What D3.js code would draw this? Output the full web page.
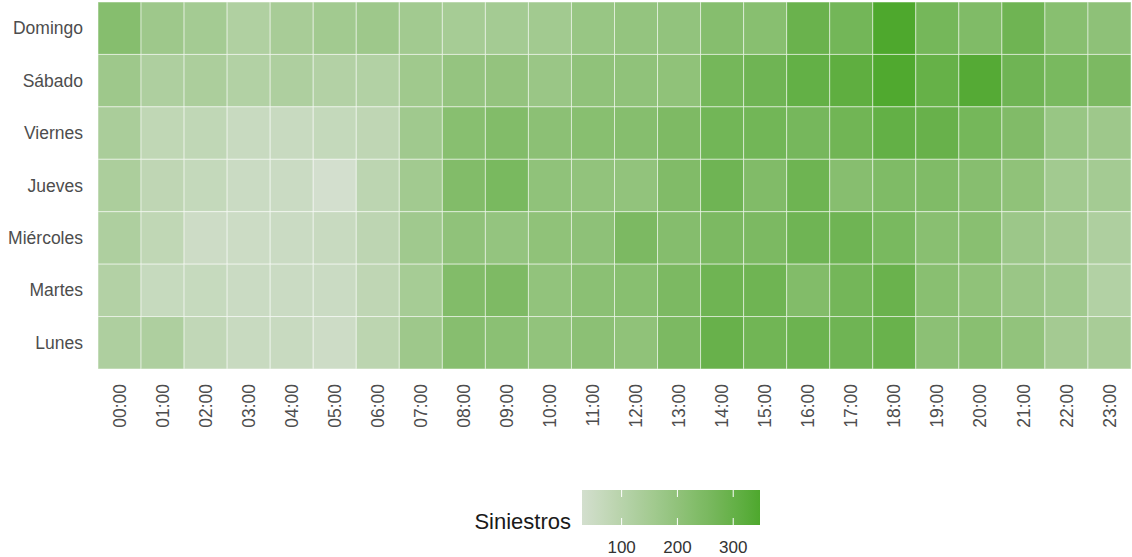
<!DOCTYPE html>
<html lang="es">
<head>
<meta charset="utf-8">
<title>Siniestros por día y hora</title>
<script src="https://d3js.org/d3.v7.min.js"></script>
<style>
  body { margin: 0; background: #fff; }
  svg { font-family: "Liberation Sans", Arial, sans-serif; display: block; }
</style>
</head>
<body>
<svg width="1132" height="557"></svg>
<script>
var days = ["Domingo", "Sábado", "Viernes", "Jueves", "Miércoles", "Martes", "Lunes"];
var hours = ["00:00","01:00","02:00","03:00","04:00","05:00","06:00","07:00","08:00","09:00","10:00","11:00",
             "12:00","13:00","14:00","15:00","16:00","17:00","18:00","19:00","20:00","21:00","22:00","23:00"];

// siniestros por hora, una lista por día
var domingo   = [225,165,150,120,140,155,165,155,145,150,155,180,190,195,225,220,290,270,348,265,240,280,220,205];
var sabado    = [165,125,130,115,125,112,115,162,188,192,175,200,200,202,265,278,305,315,345,300,335,278,255,250];
var viernes   = [135, 80, 78, 58, 58, 68, 82,160,220,235,210,220,225,245,272,272,262,275,305,295,265,238,180,165];
var jueves    = [130, 82, 68, 52, 52, 29, 88,155,235,255,200,196,196,238,278,238,282,222,242,240,222,202,155,150];
var miercoles = [125, 80, 45, 48, 52, 58, 86,160,200,190,202,205,250,228,250,250,278,278,255,218,218,170,152,125];
var martes    = [112, 62, 62, 52, 52, 52, 82,145,235,245,196,212,220,250,280,280,235,268,290,218,202,175,160,115];
var lunes     = [125,125, 75, 58, 58, 45, 90,165,222,212,196,210,202,250,295,275,285,278,292,210,218,196,152,140];

var legendTicks = [100, 200, 300];

var rows = [domingo, sabado, viernes, jueves, miercoles, martes, lunes];
var cells = [];
rows.forEach(function(r, i) {
  r.forEach(function(v, j) { cells.push({ day: days[i], hour: hours[j], value: v }); });
});

var svg = d3.select("svg");
var margin = { left: 98, right: 1, top: 2, bottom: 188 };
var width = 1132 - margin.left - margin.right,
    height = 557 - margin.top - margin.bottom;

var x = d3.scaleBand().domain(hours).range([0, width]);
var y = d3.scaleBand().domain(days).range([0, height]);
var color = d3.scaleLinear()
    .domain(d3.extent(cells, function(d) { return d.value; }))
    .range(["#d3dfce", "#4ea82d"])
    .interpolate(d3.interpolateLab);

var g = svg.append("g").attr("transform", "translate(" + margin.left + "," + margin.top + ")");

g.selectAll("rect")
  .data(cells)
  .enter().append("rect")
    .attr("x", function(d) { return x(d.hour); })
    .attr("y", function(d) { return y(d.day); })
    .attr("width", x.bandwidth())
    .attr("height", y.bandwidth())
    .attr("fill", function(d) { return color(d.value); })
    .attr("stroke", "rgba(255,255,255,0.5)")
    .attr("stroke-width", 1);

// y axis labels
g.append("g").selectAll("text")
  .data(days)
  .enter().append("text")
    .attr("x", -15)
    .attr("y", function(d) { return y(d) + y.bandwidth() / 2; })
    .attr("dy", "0.35em")
    .attr("text-anchor", "end")
    .attr("font-size", 17.5)
    .attr("fill", "#4d4d4d")
    .text(function(d) { return d; });

// x axis labels, rotated
g.append("g").selectAll("text")
  .data(hours)
  .enter().append("text")
    .attr("transform", function(d) {
      return "translate(" + (x(d) + x.bandwidth() / 2) + "," + (height + 15) + ") rotate(-90)";
    })
    .attr("dy", "0.35em")
    .attr("text-anchor", "end")
    .attr("font-size", 17.5)
    .attr("fill", "#4d4d4d")
    .text(function(d) { return d; });

// legend
var lx = 582, ly = 490, lw = 178, lh = 35;
var lscale = d3.scaleLinear().domain(color.domain()).range([lx, lx + lw]);

var grad = svg.append("defs").append("linearGradient").attr("id", "lg");
d3.range(0, 1.0001, 0.05).forEach(function(t) {
  var v = color.domain()[0] + t * (color.domain()[1] - color.domain()[0]);
  grad.append("stop").attr("offset", t).attr("stop-color", color(v));
});

svg.append("rect")
    .attr("x", lx).attr("y", ly).attr("width", lw).attr("height", lh)
    .attr("fill", "url(#lg)");

var lt = svg.append("g").selectAll("g").data(legendTicks).enter().append("g");
lt.append("line")
    .attr("x1", function(d) { return lscale(d); }).attr("x2", function(d) { return lscale(d); })
    .attr("y1", ly).attr("y2", ly + 7)
    .attr("stroke", "white").attr("stroke-width", 1);
lt.append("line")
    .attr("x1", function(d) { return lscale(d); }).attr("x2", function(d) { return lscale(d); })
    .attr("y1", ly + lh - 7).attr("y2", ly + lh)
    .attr("stroke", "white").attr("stroke-width", 1);
lt.append("text")
    .attr("x", function(d) { return lscale(d); })
    .attr("y", 553)
    .attr("text-anchor", "middle")
    .attr("font-size", 17)
    .attr("fill", "#333")
    .text(function(d) { return d; });

svg.append("text")
    .attr("x", lx - 11)
    .attr("y", 529)
    .attr("text-anchor", "end")
    .attr("font-size", 22)
    .attr("fill", "#1a1a1a")
    .text("Siniestros");
</script>
</body>
</html>
